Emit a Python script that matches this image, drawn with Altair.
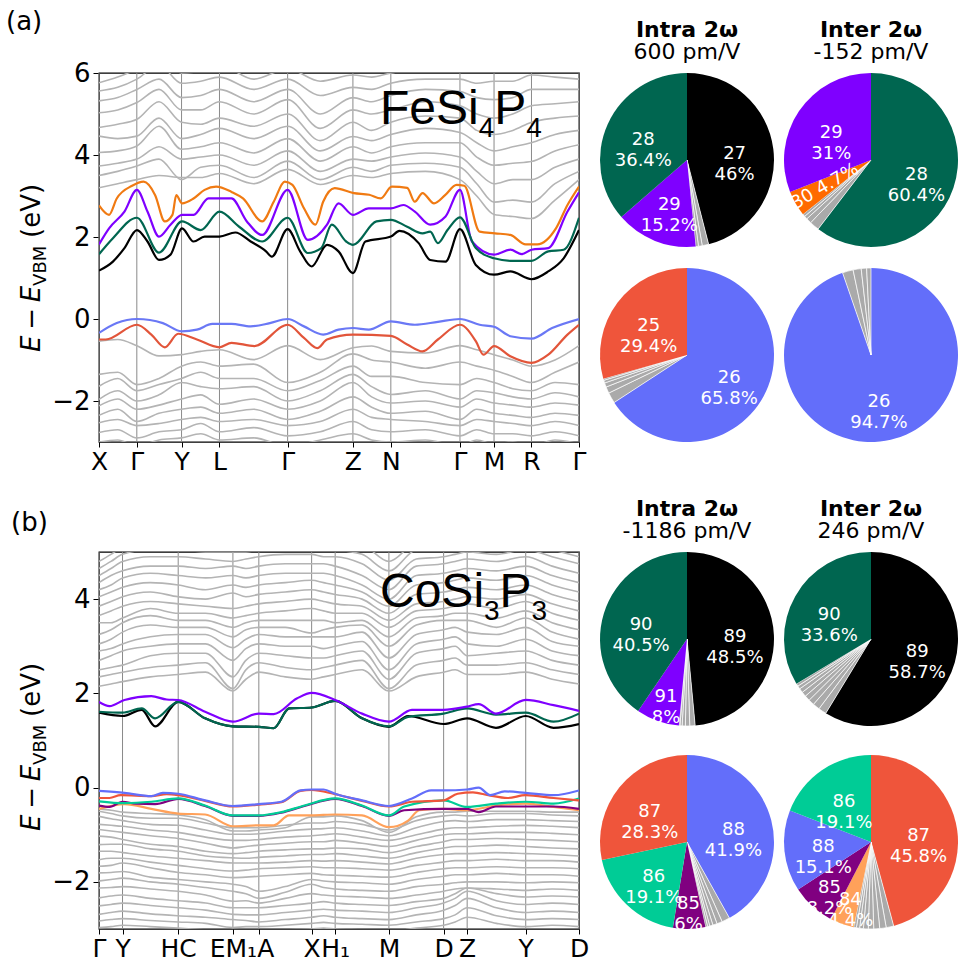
import altair as alt
import pandas as pd

# ===================== panel (a): FeSi4P4 =====================
kA_ticks = [0.0, 0.0788, 0.172, 0.251, 0.393, 0.529, 0.608, 0.752, 0.823, 0.901, 1.0]
kA_names = ["X", "Γ", "Y", "L", "Γ", "Z", "N", "Γ", "M", "R", "Γ"]
kA_grid = [0.0, 0.039, 0.079, 0.125, 0.172, 0.212, 0.251, 0.322, 0.393, 0.461, 0.529,
           0.568, 0.608, 0.680, 0.752, 0.787, 0.823, 0.862, 0.901, 0.950, 1.0]

greyA_upper = [
    [3.2, 3.3, 3.4, 3.5, 3.45, 3.45, 3.55, 3.3, 3.65, 3.28, 3.5, 3.45, 3.55, 3.6, 3.4, 3.0, 2.55, 2.5, 2.45, 2.9, 3.4],
    [3.5, 3.6, 3.73, 3.9, 3.4, 3.7, 3.75, 3.45, 3.85, 3.4, 3.7, 3.6, 3.75, 3.8, 3.7, 3.3, 2.85, 2.9, 2.85, 3.3, 3.6],
    [3.73, 3.8, 3.9, 4.2, 3.9, 3.95, 4.0, 3.75, 4.1, 3.6, 3.9, 3.85, 3.95, 4.05, 3.95, 3.6, 3.3, 3.4, 3.4, 3.7, 3.9],
    [4.06, 4.1, 4.22, 4.7, 4.14, 4.2, 4.3, 4.05, 4.4, 3.85, 4.2, 4.05, 4.2, 4.3, 4.3, 3.95, 3.75, 3.8, 3.84, 4.1, 4.25],
    [4.46, 4.4, 4.46, 4.9, 4.4, 4.5, 4.65, 4.4, 4.7, 4.1, 4.45, 4.35, 4.5, 4.65, 4.55, 4.3, 4.1, 4.2, 4.3, 4.5, 4.6],
    [4.67, 4.75, 4.87, 5.3, 4.8, 4.75, 4.9, 4.7, 5.0, 4.35, 4.8, 4.6, 4.8, 4.95, 4.9, 4.6, 4.5, 4.6, 4.8, 4.9, 4.95],
    [5.03, 5.1, 5.28, 5.6, 5.1, 5.1, 5.3, 5.0, 5.35, 4.65, 5.1, 5.0, 5.1, 5.3, 5.2, 5.0, 4.9, 5.0, 5.2, 5.25, 5.3],
    [5.32, 5.4, 5.6, 5.85, 5.4, 5.45, 5.6, 5.3, 5.6, 5.0, 5.4, 5.3, 5.45, 5.6, 5.55, 5.4, 5.35, 5.4, 5.6, 5.6, 5.6],
    [5.56, 5.65, 5.85, 6.2, 5.75, 5.8, 5.9, 5.6, 5.85, 5.45, 5.65, 5.6, 5.75, 5.85, 5.85, 5.75, 5.8, 5.8, 5.95, 5.9, 5.85],
    [5.76, 5.9, 6.1, 6.4, 6.0, 6.05, 6.2, 5.85, 6.1, 5.8, 5.95, 5.9, 6.0, 6.1, 6.1, 6.05, 6.1, 6.15, 6.3, 6.2, 6.1],
]
greyA_lower = [
    [-0.54, -0.5, -0.65, -0.9, -0.87, -0.79, -0.75, -0.99, -0.65, -0.99, -0.7, -0.66, -0.79, -0.83, -0.65, -0.75, -0.87, -1.0, -1.15, -1.0, -0.65],
    [-1.35, -1.3, -1.6, -1.45, -1.15, -1.05, -1.15, -1.1, -1.55, -1.3, -0.85, -1.0, -1.05, -1.2, -1.05, -1.15, -1.25, -1.4, -1.55, -1.3, -1.05],
    [-1.64, -1.45, -1.75, -1.6, -1.45, -1.3, -1.45, -1.45, -1.75, -1.5, -1.15, -1.4, -1.4, -1.55, -1.6, -1.45, -1.55, -1.7, -1.75, -1.55, -1.6],
    [-1.96, -1.75, -2.0, -1.85, -1.55, -1.65, -1.7, -1.65, -2.0, -1.75, -1.35, -1.65, -1.84, -1.75, -1.95, -1.75, -1.8, -1.9, -1.95, -1.8, -1.9],
    [-2.12, -1.95, -2.2, -2.1, -1.95, -1.85, -2.08, -1.95, -2.2, -2.0, -1.55, -1.9, -2.05, -2.0, -2.15, -1.95, -2.05, -2.1, -2.15, -2.05, -2.1],
    [-2.35, -2.2, -2.5, -2.3, -2.2, -2.15, -2.3, -2.2, -2.45, -2.25, -1.9, -2.15, -2.3, -2.25, -2.45, -2.2, -2.3, -2.35, -2.4, -2.3, -2.35],
    [-2.53, -2.45, -2.6, -2.55, -2.45, -2.4, -2.5, -2.45, -2.6, -2.5, -2.2, -2.4, -2.45, -2.5, -2.6, -2.45, -2.5, -2.55, -2.6, -2.5, -2.6],
    [-2.77, -2.7, -2.9, -2.75, -2.7, -2.55, -2.75, -2.65, -2.85, -2.75, -2.5, -2.7, -2.75, -2.7, -2.85, -2.7, -2.8, -2.8, -2.85, -2.75, -2.85],
    [-3.0, -2.95, -3.1, -2.95, -2.9, -2.8, -2.95, -2.9, -3.1, -2.95, -2.8, -2.95, -3.0, -2.95, -3.1, -2.95, -3.05, -3.0, -3.1, -2.95, -3.05],
]

A30_k = [0, .021, .037, .069, .093, .117, .137, .153, .161, .173, .197, .220, .244, .276, .300, .340, .364, .387, .403, .427, .451,
         .467, .491, .531, .563, .587, .610, .642, .658, .674, .698, .721, .745, .761, .793, .825, .857, .889, .913, .952, .976, 1]
A30_E = [2.77, 2.54, 2.94, 3.25, 3.35, 3.02, 2.38, 2.54, 3.02, 2.82, 2.94, 3.15, 3.23, 3.1, 2.94, 2.38, 2.86, 3.35, 3.27, 2.7, 2.3,
         2.86, 3.19, 3.07, 3.03, 2.94, 3.23, 3.2, 2.86, 3.07, 2.82, 3.02, 3.27, 3.25, 2.13, 2.09, 2.05, 1.82, 1.82, 2.21, 2.78, 3.23]
A29_k = [0, .021, .053, .079, .101, .125, .149, .173, .197, .228, .251, .276, .308, .340, .393, .435, .475, .499, .529, .562, .608,
         .634, .658, .690, .722, .752, .777, .823, .857, .881, .901, .936, .976, 1]
A29_E = [1.82, 2.21, 2.62, 3.15, 2.62, 2.01, 2.3, 2.54, 2.54, 2.94, 2.94, 2.94, 2.38, 2.05, 3.15, 1.93, 2.3, 2.82, 2.54, 2.7, 2.7,
         2.78, 2.62, 2.3, 2.5, 3.15, 1.89, 1.57, 1.69, 1.58, 1.69, 1.73, 2.62, 3.09]
A28_k = [0, .029, .079, .125, .173, .212, .251, .292, .340, .393, .435, .463, .485, .515, .529, .578, .608, .642, .674, .690, .706,
         .726, .752, .785, .823, .857, .901, .936, .968, 1]
A28_E = [1.58, 1.97, 2.47, 1.62, 2.38, 2.17, 2.62, 2.25, 1.89, 2.47, 1.61, 1.73, 2.3, 1.89, 1.81, 2.38, 2.42, 2.25, 2.09, 2.13, 1.85,
         2.17, 2.48, 1.73, 1.48, 1.42, 1.42, 1.65, 1.69, 2.47]
A27_k = [0, .029, .053, .079, .101, .125, .149, .173, .197, .220, .251, .284, .316, .348, .360, .393, .419, .443, .475, .499, .529,
         .555, .608, .626, .666, .690, .722, .752, .785, .823, .857, .901, .936, .968, 1]
A27_E = [1.18, 1.4, 1.73, 2.17, 1.89, 1.44, 1.57, 2.21, 1.89, 2.01, 2.01, 2.11, 1.89, 1.65, 1.52, 2.19, 1.65, 1.28, 1.81, 1.65, 1.12,
         1.89, 2.01, 2.15, 1.85, 1.44, 1.4, 2.19, 1.32, 1.08, 1.16, 0.97, 1.16, 1.48, 2.17]
A26_k = [0, .037, .079, .133, .172, .204, .236, .276, .316, .356, .393, .427, .467, .499, .529, .562, .608, .658, .706, .752, .793,
         .823, .857, .901, .944, 1]
A26_E = [-0.34, -0.1, 0, -0.1, -0.3, -0.26, -0.12, -0.12, -0.18, -0.1, 0, -0.18, -0.38, -0.26, -0.22, -0.26, -0.06, -0.14, -0.07, 0,
         -0.14, -0.19, -0.42, -0.48, -0.22, 0]
A25_k = [0, .014, .079, .109, .137, .165, .204, .251, .276, .324, .393, .427, .455, .475, .529, .608, .642, .674, .706, .752, .785,
         .801, .823, .857, .901, .936, .976, 1]
A25_E = [-0.5, -0.5, -0.14, -0.38, -0.69, -0.36, -0.5, -0.69, -0.58, -0.66, -0.14, -0.46, -0.71, -0.5, -0.38, -0.41, -0.62, -0.79,
         -0.5, -0.14, -0.54, -0.87, -0.66, -0.91, -1.07, -0.87, -0.38, -0.14]

# ===================== panel (b): CoSi3P3 =====================
kB_ticks = [0.0, 0.049, 0.165, 0.279, 0.333, 0.443, 0.492, 0.604, 0.718, 0.767, 0.889, 1.0]
kB_names = ["Γ", "Y", "HC", "EM₁", "A", "X", "H₁", "M", "D", "Z", "Y", "D"]
kB_grid = [0.0, 0.025, 0.049, 0.107, 0.165, 0.222, 0.279, 0.306, 0.333, 0.388, 0.443, 0.468, 0.492,
           0.548, 0.604, 0.661, 0.718, 0.742, 0.767, 0.828, 0.889, 0.944, 1.0]

greyB_upper = [
    [2.15, 2.2, 2.25, 2.35, 2.4, 2.45, 2.05, 2.3, 2.45, 2.35, 2.3, 2.35, 2.4, 2.5, 2.05, 2.35, 2.45, 2.5, 2.4, 2.4, 2.45, 2.3, 2.2],
    [2.35, 2.4, 2.45, 2.55, 2.6, 2.65, 2.1, 2.5, 2.65, 2.55, 2.5, 2.55, 2.6, 2.7, 2.1, 2.6, 2.7, 2.75, 2.6, 2.6, 2.65, 2.5, 2.4],
    [2.5, 2.55, 2.6, 2.8, 2.85, 2.85, 2.35, 2.7, 2.85, 2.8, 2.75, 2.75, 2.8, 2.9, 2.3, 2.85, 2.95, 3.0, 2.8, 2.85, 2.9, 2.7, 2.6],
    [2.7, 2.8, 2.9, 3.0, 3.05, 3.05, 2.7, 2.95, 3.05, 3.0, 3.0, 2.95, 3.0, 3.1, 2.5, 3.05, 3.15, 3.2, 3.05, 3.0, 3.15, 2.9, 2.8],
    [2.9, 2.95, 3.05, 3.2, 3.25, 3.25, 2.97, 3.15, 3.25, 3.2, 3.2, 3.2, 3.2, 3.3, 2.75, 3.25, 3.35, 3.4, 3.3, 3.25, 3.4, 3.1, 3.0],
    [3.05, 3.15, 3.3, 3.45, 3.4, 3.4, 3.2, 3.35, 3.4, 3.4, 3.28, 3.35, 3.4, 3.45, 3.0, 3.45, 3.55, 3.55, 3.55, 3.4, 3.6, 3.3, 3.15],
    [3.25, 3.35, 3.5, 3.65, 3.55, 3.55, 3.4, 3.5, 3.55, 3.55, 3.55, 3.55, 3.5, 3.55, 3.2, 3.6, 3.65, 3.7, 3.7, 3.6, 3.75, 3.5, 3.35],
    [3.5, 3.5, 3.6, 3.8, 3.7, 3.7, 3.6, 3.65, 3.7, 3.75, 3.8, 3.75, 3.7, 3.7, 3.4, 3.75, 3.8, 3.85, 3.9, 3.8, 3.95, 3.7, 3.55],
    [3.65, 3.75, 3.85, 3.95, 3.9, 3.85, 3.8, 3.85, 3.9, 3.95, 4.0, 3.95, 3.9, 3.85, 3.55, 3.9, 3.95, 4.0, 4.05, 4.0, 4.1, 3.9, 3.75],
    [3.85, 3.95, 4.05, 4.15, 4.05, 4.0, 4.13, 4.05, 4.1, 4.15, 4.2, 4.15, 4.1, 4.0, 3.7, 4.1, 4.15, 4.2, 4.25, 4.2, 4.3, 4.1, 3.95],
    [4.05, 4.15, 4.25, 4.35, 4.3, 4.2, 4.3, 4.25, 4.3, 4.35, 4.4, 4.35, 4.3, 4.15, 3.85, 4.3, 4.35, 4.4, 4.45, 4.4, 4.5, 4.3, 4.15],
    [4.2, 4.3, 4.45, 4.55, 4.5, 4.45, 4.5, 4.45, 4.5, 4.55, 4.55, 4.55, 4.5, 4.3, 4.0, 4.5, 4.55, 4.6, 4.65, 4.6, 4.7, 4.5, 4.35],
    [4.35, 4.5, 4.6, 4.7, 4.7, 4.65, 4.7, 4.65, 4.7, 4.75, 4.75, 4.75, 4.7, 4.5, 4.2, 4.7, 4.75, 4.8, 4.85, 4.8, 4.9, 4.7, 4.55],
    [4.5, 4.65, 4.8, 4.9, 4.9, 4.85, 4.8, 4.85, 4.9, 4.95, 4.95, 4.9, 4.9, 4.75, 4.4, 4.85, 4.9, 4.95, 5.0, 4.95, 5.05, 4.9, 4.75],
    [4.65, 4.8, 4.95, 5.05, 5.05, 5.0, 5.0, 5.0, 5.05, 5.1, 5.1, 5.1, 5.05, 4.95, 4.6, 5.05, 5.1, 5.1, 5.15, 5.15, 5.2, 5.05, 4.9],
    [4.8, 4.95, 5.1, 5.2, 5.2, 5.15, 5.15, 5.2, 5.2, 5.25, 5.25, 5.25, 5.2, 5.15, 4.8, 5.2, 5.25, 5.3, 5.3, 5.3, 5.35, 5.2, 5.05],
]
greyB_lower = [
    [-0.45, -0.48, -0.52, -0.55, -0.58, -0.68, -0.92, -0.92, -0.9, -0.85, -0.62, -0.62, -0.6, -0.7, -0.95, -0.62, -0.52, -0.52, -0.5, -0.5, -0.5, -0.52, -0.52],
    [-0.5, -0.55, -0.6, -0.65, -0.65, -0.75, -0.85, -0.85, -0.85, -0.8, -0.75, -0.75, -0.72, -0.78, -0.9, -0.7, -0.6, -0.58, -0.6, -0.55, -0.55, -0.58, -0.6],
    [-0.61, -0.66, -0.7, -0.78, -0.8, -0.9, -0.99, -0.99, -0.98, -0.92, -0.88, -0.87, -0.85, -0.92, -1.02, -0.85, -0.72, -0.7, -0.72, -0.68, -0.68, -0.7, -0.72],
    [-0.78, -0.8, -0.82, -0.9, -0.95, -1.05, -1.12, -1.12, -1.1, -1.05, -1.02, -1.0, -0.98, -1.05, -1.12, -1.0, -0.88, -0.85, -0.85, -0.82, -0.8, -0.82, -0.85],
    [-0.89, -0.92, -0.95, -1.02, -1.08, -1.18, -1.28, -1.25, -1.22, -1.18, -1.15, -1.15, -1.12, -1.18, -1.25, -1.12, -1.0, -0.98, -0.98, -0.95, -0.95, -0.97, -1.0],
    [-1.03, -1.05, -1.1, -1.2, -1.25, -1.35, -1.4, -1.38, -1.35, -1.32, -1.3, -1.3, -1.28, -1.3, -1.38, -1.25, -1.15, -1.1, -1.1, -1.08, -1.1, -1.12, -1.15],
    [-1.21, -1.2, -1.2, -1.3, -1.35, -1.45, -1.49, -1.5, -1.48, -1.45, -1.42, -1.42, -1.4, -1.45, -1.5, -1.38, -1.28, -1.25, -1.25, -1.22, -1.25, -1.28, -1.3],
    [-1.35, -1.35, -1.38, -1.45, -1.5, -1.55, -1.6, -1.6, -1.6, -1.58, -1.55, -1.56, -1.55, -1.58, -1.62, -1.5, -1.42, -1.4, -1.4, -1.38, -1.4, -1.42, -1.45],
    [-1.53, -1.5, -1.5, -1.58, -1.65, -1.72, -1.77, -1.75, -1.72, -1.7, -1.68, -1.7, -1.7, -1.72, -1.75, -1.65, -1.58, -1.55, -1.55, -1.52, -1.55, -1.55, -1.58],
    [-1.67, -1.65, -1.6, -1.7, -1.8, -1.85, -1.91, -1.9, -1.88, -1.85, -1.82, -1.85, -1.86, -1.88, -1.9, -1.8, -1.72, -1.7, -1.7, -1.68, -1.7, -1.7, -1.72],
    [-1.81, -1.8, -1.78, -1.9, -1.95, -2.0, -2.05, -2.1, -2.2, -2.1, -1.95, -1.98, -2.0, -2.02, -2.05, -1.95, -1.88, -1.85, -1.85, -1.82, -1.85, -1.85, -1.88],
    [-1.98, -1.95, -1.92, -2.0, -2.05, -2.12, -2.2, -2.25, -2.35, -2.22, -2.05, -2.12, -2.15, -2.18, -2.2, -2.1, -2.05, -2.02, -2.0, -2.0, -2.02, -2.0, -2.02],
    [-2.13, -2.12, -2.1, -2.15, -2.2, -2.28, -2.41, -2.4, -2.45, -2.35, -2.25, -2.28, -2.3, -2.32, -2.35, -2.28, -2.2, -2.15, -2.13, -2.15, -2.18, -2.15, -2.18],
    [-2.34, -2.3, -2.28, -2.35, -2.4, -2.45, -2.55, -2.55, -2.55, -2.5, -2.45, -2.42, -2.45, -2.48, -2.5, -2.42, -2.35, -2.25, -2.13, -2.25, -2.32, -2.3, -2.32],
    [-2.51, -2.48, -2.45, -2.5, -2.55, -2.6, -2.69, -2.7, -2.7, -2.65, -2.6, -2.58, -2.6, -2.62, -2.65, -2.55, -2.45, -2.35, -2.2, -2.4, -2.48, -2.45, -2.48],
    [-2.69, -2.65, -2.62, -2.68, -2.72, -2.75, -2.8, -2.82, -2.85, -2.8, -2.75, -2.72, -2.75, -2.78, -2.8, -2.7, -2.6, -2.5, -2.35, -2.55, -2.65, -2.62, -2.65],
    [-2.83, -2.8, -2.78, -2.82, -2.85, -2.88, -2.97, -2.95, -2.95, -2.92, -2.88, -2.86, -2.88, -2.9, -2.92, -2.85, -2.78, -2.7, -2.55, -2.72, -2.8, -2.78, -2.8],
    [-2.97, -2.95, -2.92, -2.95, -2.98, -3.02, -3.05, -3.05, -3.05, -3.02, -3.0, -2.98, -3.0, -3.02, -3.05, -2.98, -2.92, -2.85, -2.75, -2.88, -2.95, -2.92, -2.95],
]

B91_k = [0, .022, .053, .109, .141, .165, .221, .279, .333, .364, .412, .443, .492, .548, .604, .652, .718, .767, .791, .827, .889, .947, 1]
B91_E = [1.82, 1.73, 1.86, 1.94, 1.87, 1.86, 1.61, 1.4, 1.57, 1.56, 1.89, 2.01, 1.86, 1.57, 1.4, 1.65, 1.65, 1.72, 1.77, 1.57, 1.86, 1.75, 1.63]
B90_k = [0, .049, .089, .117, .165, .221, .279, .333, .364, .396, .443, .492, .548, .604, .644, .718, .767, .827, .889, .947, 1]
B90_E = [1.61, 1.59, 1.68, 1.47, 1.82, 1.47, 1.3, 1.29, 1.26, 1.68, 1.7, 1.84, 1.47, 1.3, 1.5, 1.57, 1.68, 1.55, 1.59, 1.4, 1.57]
B89_k = [0, .049, .089, .117, .165, .221, .279, .333, .364, .396, .443, .492, .548, .604, .644, .718, .767, .827, .889, .947, 1]
B89_E = [1.59, 1.52, 1.65, 1.3, 1.82, 1.47, 1.3, 1.29, 1.26, 1.68, 1.7, 1.84, 1.47, 1.29, 1.52, 1.35, 1.47, 1.27, 1.52, 1.27, 1.35]
B88_k = [0, .053, .109, .133, .165, .221, .279, .333, .380, .420, .443, .468, .492, .548, .604, .652, .692, .718, .767, .791, .815, .845, .889, .947, 1]
B88_E = [-0.07, -0.11, -0.18, -0.11, -0.13, -0.27, -0.39, -0.35, -0.3, -0.06, -0.04, -0.04, -0.13, -0.27, -0.39, -0.23, -0.06, -0.06,
         -0.04, 0, -0.16, -0.08, -0.11, -0.16, -0.06]
B87_k = [0, .022, .045, .109, .141, .165, .221, .279, .333, .380, .420, .443, .492, .548, .604, .652, .718, .747, .779, .811, .851, .889, .947, 1]
B87_E = [-0.22, -0.22, -0.16, -0.18, -0.14, -0.16, -0.28, -0.4, -0.36, -0.31, -0.07, -0.05, -0.14, -0.28, -0.4, -0.3, -0.27, -0.13,
         -0.1, -0.16, -0.22, -0.16, -0.22, -0.27]
B86_k = [0, .053, .109, .165, .221, .279, .333, .380, .428, .492, .548, .604, .636, .718, .767, .827, .889, .947, 1]
B86_E = [-0.29, -0.33, -0.3, -0.23, -0.38, -0.59, -0.59, -0.52, -0.38, -0.23, -0.38, -0.59, -0.4, -0.27, -0.41, -0.34, -0.3, -0.34, -0.23]
B85_k = [0, .022, .049, .077, .117, .165, .221, .279, .333, .380, .428, .492, .548, .604, .636, .718, .767, .791, .827, .889, .947, 1]
B85_E = [-0.38, -0.41, -0.3, -0.34, -0.35, -0.24, -0.39, -0.6, -0.6, -0.53, -0.39, -0.24, -0.39, -0.6, -0.48, -0.45, -0.45, -0.52,
         -0.4, -0.4, -0.4, -0.45]
B84_k = [0, .053, .109, .165, .221, .279, .333, .364, .396, .443, .492, .548, .604, .644, .667, .718, .767, .827, .889, .947, 1]
B84_E = [-0.45, -0.35, -0.45, -0.55, -0.57, -0.82, -0.8, -0.8, -0.59, -0.59, -0.57, -0.59, -0.84, -0.7, -0.48, -0.45, -0.48, -0.38,
         -0.34, -0.41, -0.48]

# ===================== pies (band index, share in %) =====================
pieA_intra_top_bands = ["27", "", "", "", "29", "28"]
pieA_intra_top_vals = [46.0, 1.2, 0.7, 0.5, 15.2, 36.4]
pieA_inter_top_bands = ["28", "", "", "", "", "30", "29"]
pieA_inter_top_vals = [60.4, 1.8, 1.0, 0.6, 0.5, 4.7, 31.0]
pieA_intra_bot_bands = ["26", "", "", "", "", "", "25"]
pieA_intra_bot_vals = [65.8, 2.0, 1.2, 0.8, 0.5, 0.3, 29.4]
pieA_inter_bot_bands = ["26", "", "", "", ""]
pieA_inter_bot_vals = [94.7, 2.0, 1.5, 1.0, 0.8]
pieB_intra_top_bands = ["89", "", "", "", "", "", "91", "90"]
pieB_intra_top_vals = [48.5, 1.0, 0.8, 0.6, 0.4, 0.2, 8.0, 40.5]
pieB_inter_top_bands = ["89", "", "", "", "", "", "", "", "", "90"]
pieB_inter_top_vals = [58.7, 1.5, 1.3, 1.1, 1.0, 0.9, 0.8, 0.6, 0.5, 33.6]
pieB_intra_bot_bands = ["88", "", "", "", "", "", "", "85", "86", "87"]
pieB_intra_bot_vals = [41.9, 1.5, 1.0, 0.8, 0.6, 0.4, 0.4, 6.0, 19.1, 28.3]
pieB_inter_bot_bands = ["87", "", "", "", "", "", "", "", "", "84", "85", "88", "86"]
pieB_inter_bot_vals = [45.8, 1.4, 1.2, 1.1, 1.0, 0.9, 0.7, 0.6, 0.5, 4.4, 8.2, 15.1, 19.1]

pie_titles = [("Intra 2ω", "600 pm/V"), ("Inter 2ω", "-152 pm/V"),
              ("Intra 2ω", "-1186 pm/V"), ("Inter 2ω", "246 pm/V")]

# ===================== styling =====================
BLACK, GREEN, PURPLE, ORANGE = "#000000", "#006650", "#7F00FF", "#FF6A00"
BLUE, RED, TEAL, DPURPLE, LORANGE = "#636EFA", "#EF553B", "#00CC96", "#800080", "#FFA15A"
GREY_PIE, GREY_LINE = "#AAAAAA", "#B4B4B4"
BAND_COLOR = {"25": RED, "26": BLUE, "27": BLACK, "28": GREEN, "29": PURPLE, "30": ORANGE,
              "84": LORANGE, "85": DPURPLE, "86": TEAL, "87": RED, "88": BLUE, "89": BLACK,
              "90": GREEN, "91": PURPLE}
FONT = "DejaVu Sans"
ONE = pd.DataFrame({"o": [0]})

PW = 480          # band panel width
D = 174           # pie diameter
TAG_Y = -51       # vertical position of the panel tag relative to the panel top
R_BIG, R_SMALL = 48, 62
DV = {"E": 0.632, "−": 0.838, "V": 0.684, "B": 0.686, "M": 0.863, "(": 0.390, "e": 0.615, ")": 0.390}
LS = {"F": 0.611, "e": 0.556, "S": 0.667, "i": 0.222, "P": 0.667, "C": 0.722, "o": 0.556}


def txt(s, x, y, size, font=FONT, color="black", **kw):
    return alt.Chart(ONE).mark_text(text=s, fontSize=size, font=font, color=color, **kw).encode(
        x=alt.value(x), y=alt.value(y))


def ylabel(ystart, xbase):
    pieces = [("E", 26, "italic", 0, 0.0), ("−", 26, "normal", 0, 0.22), ("E", 26, "italic", 0, 0.22),
              ("VBM", 18, "normal", 6, 0.0), ("(eV)", 26, "normal", 0, 0.3)]
    out = []
    y = ystart
    for s, size, style, dx, gap in pieces:
        y -= gap * 26
        out.append(txt(s, xbase + dx, y, size, angle=270, align="left", baseline="alphabetic", fontStyle=style))
        y -= sum(DV.get(c, 0.6) for c in s) * size
    return out


def formula(parts, x0, ybase, ysub):
    out = []
    x = x0
    for s, sub in parts:
        size = 28 if sub else 48
        out.append(txt(s, x, ysub if sub else ybase, size, font="Liberation Sans", align="left", baseline="alphabetic"))
        x += sum(LS.get(c, 0.556) for c in s) * size
    return out


def band_panel(kgrid, greys, colored, ticks, names, ydom, H, tag, fparts, fbase):
    rows = [{"b": i, "k": k, "E": e} for i, band in enumerate(greys) for k, e in zip(kgrid, band)]
    gdf = pd.DataFrame(rows)
    expr = "[" + ",".join("'%s'" % n for n in names) + "][indexof([" + ",".join(repr(t) for t in ticks) + "], datum.value)]"
    xs = alt.Scale(domain=[0, 1], nice=False, zero=False)
    ys = alt.Scale(domain=ydom, nice=False, zero=False)
    xa = alt.Axis(values=ticks, labelExpr=expr, title=None, grid=False, domain=False, ticks=True, tickSize=5,
                  tickColor="black", labelFont=FONT, labelFontSize=25, labelColor="black", labelOverlap=False,
                  labelFlush=False, labelBound=False, labelPadding=2,
                  labelAlign={"condition": {"test": "datum.value == 0.333", "value": "left"}, "value": "center"},
                  labelOffset={"condition": {"test": "datum.value == 0.333", "value": -2}, "value": 0})
    ya = alt.Axis(values=list(range(int(ydom[0]) + 1, int(ydom[1]) + 1, 2)), title=None, grid=False, domain=False,
                  tickSize=6, tickColor="black", labelFont=FONT, labelFontSize=26, labelColor="black",
                  labelPadding=3, format="d")
    X = alt.X("k:Q", scale=xs, axis=xa)
    Y = alt.Y("E:Q", scale=ys, axis=ya)
    layers = [
        alt.Chart(pd.DataFrame({"k": ticks})).mark_rule(color="#8A8A8A", strokeWidth=1).encode(x=X),
        alt.Chart(gdf).mark_line(color=GREY_LINE, strokeWidth=1.6, clip=True, interpolate="monotone")
        .encode(x=X, y=Y, detail="b:N"),
    ]
    for k, e, c in colored:
        layers.append(alt.Chart(pd.DataFrame({"k": k, "E": e}))
                      .mark_line(color=c, strokeWidth=2.2, clip=True, interpolate="monotone")
                      .encode(x=X, y=Y))
    layers += formula(fparts, 281, fbase, fbase + 13)
    layers += ylabel(279, -59)
    layers.append(txt(tag[0], tag[1], tag[2], 26, align="left", baseline="middle"))
    return alt.layer(*layers).properties(width=PW, height=H,
                                         view=alt.ViewBackground(stroke="black", strokeWidth=1.3))


def pie(bands, vals, title=None, rotated=(), top_guard=False):
    big, small, rot, col = [], [], [], []
    for b, v in zip(bands, vals):
        s = ("%s\n%g%%" % (b, v)) if b else ""
        big.append(s if (b and b not in rotated and v >= 10) else "")
        small.append(s if (b and b not in rotated and v < 10) else "")
        rot.append(("%s %g%%" % (b, v)) if b in rotated else "")
        col.append(BAND_COLOR.get(b, GREY_PIE))
    df = pd.DataFrame({"idx": list(range(len(vals))), "band": bands, "v": vals,
                       "big": big, "small": small, "rot": rot, "col": col})
    base = alt.Chart(df).encode(theta=alt.Theta("v:Q", stack=True), order=alt.Order("idx:Q"))
    arcs = base.mark_arc(stroke="white").encode(
        color=alt.Color("col:N", scale=None),
        strokeWidth=alt.condition("datum.band == ''", alt.value(0.7), alt.value(0)))
    tstyle = dict(font=FONT, fontSize=18, color="white", lineBreak="\n", lineHeight=21,
                  align="center", baseline="middle")
    layers = [arcs,
              base.mark_text(radius=R_BIG, **tstyle).encode(text="big:N"),
              base.mark_text(radius=R_SMALL, **tstyle).encode(text="small:N")]
    if rotated:
        layers.append(base.mark_text(font=FONT, fontSize=18, color="white", angle=330, radius=53,
                                     align="center", baseline="middle").encode(text="rot:N"))
    if top_guard:
        # invisible mark so that the top of this column lines up with the panel tag "(a)"
        layers.append(txt(".", 2, TAG_Y, 26, color="white", align="left", baseline="middle"))
    if title:
        layers.append(txt(title[0], D / 2, -36, 22, align="center", baseline="alphabetic", fontWeight="bold"))
        layers.append(txt(title[1], D / 2, -14, 22, align="center", baseline="alphabetic"))
    return alt.layer(*layers).properties(width=D, height=D)


def spacer(h):
    return alt.Chart(ONE).mark_point(opacity=0, size=1).encode(
        x=alt.value(D / 2), y=alt.value(h / 2)).properties(width=D, height=h)


panel_a = band_panel(kA_grid, greyA_upper + greyA_lower,
                     [(A30_k, A30_E, "#F07A12"), (A29_k, A29_E, PURPLE), (A28_k, A28_E, GREEN),
                      (A27_k, A27_E, BLACK), (A26_k, A26_E, "#6A78F5"), (A25_k, A25_E, "#E2553A")],
                     kA_ticks, kA_names, [-3, 6], 369, ("(a)", -93, TAG_Y),
                     [("FeSi", False), ("4", True), ("P", False), ("4", True)], 51)
panel_b = band_panel(kB_grid, greyB_upper + greyB_lower,
                     [(B84_k, B84_E, LORANGE), (B85_k, B85_E, DPURPLE), (B86_k, B86_E, TEAL),
                      (B87_k, B87_E, RED), (B88_k, B88_E, BLUE), (B89_k, B89_E, BLACK),
                      (B90_k, B90_E, GREEN), (B91_k, B91_E, PURPLE)],
                     kB_ticks, kB_names, [-3, 5], 377, ("(b)", -88, -29),
                     [("CoSi", False), ("3", True), ("P", False), ("3", True)], 55)

p1 = pie(pieA_intra_top_bands, pieA_intra_top_vals, pie_titles[0], top_guard=True)
p2 = pie(pieA_inter_top_bands, pieA_inter_top_vals, pie_titles[1], rotated=("30",), top_guard=True)
p3 = pie(pieA_intra_bot_bands, pieA_intra_bot_vals)
p4 = pie(pieA_inter_bot_bands, pieA_inter_bot_vals)
p5 = pie(pieB_intra_top_bands, pieB_intra_top_vals, pie_titles[2])
p6 = pie(pieB_inter_top_bands, pieB_inter_top_vals, pie_titles[3])
p7 = pie(pieB_intra_bot_bands, pieB_intra_bot_vals)
p8 = pie(pieB_inter_bot_bands, pieB_inter_bot_vals)

left_col = alt.vconcat(panel_a, panel_b, spacing=110, bounds="flush")
pie_col1 = alt.vconcat(p1, spacer(21), p3, spacer(110), p5, spacer(29), p7, spacing=0, bounds="flush")
pie_col2 = alt.vconcat(p2, spacer(21), p4, spacer(110), p6, spacer(29), p8, spacing=0, bounds="flush")

chart = alt.hconcat(left_col, pie_col1, pie_col2, spacing=10).properties(
    padding={"left": 5, "top": 8, "right": 0, "bottom": 0},
    background="white",
).configure(font=FONT).configure_view(stroke=None)

chart.save("out.html", embed_options={"renderer": "svg", "actions": False})
